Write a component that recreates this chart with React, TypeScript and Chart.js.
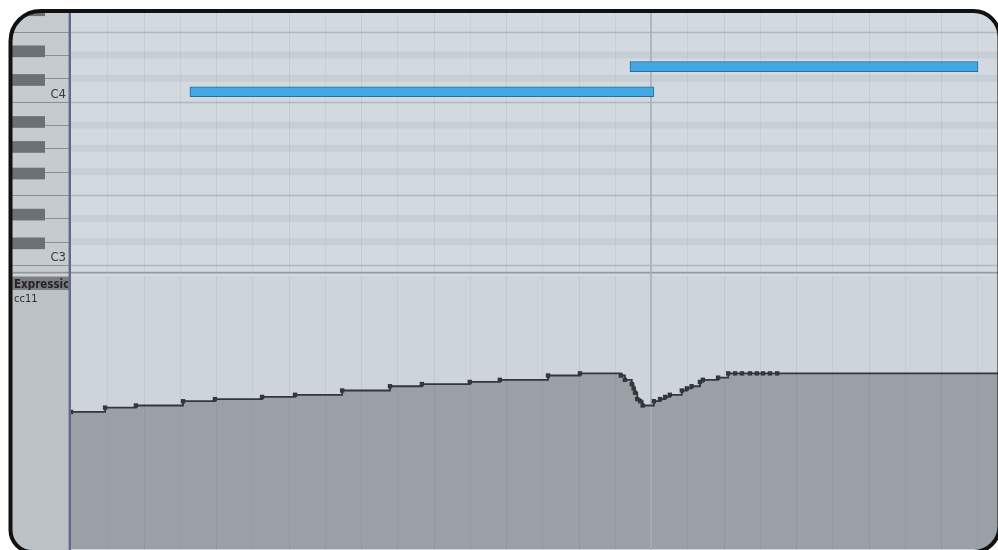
import React, { useEffect, useRef } from "react";
import { Chart, registerables } from "chart.js";

Chart.register(...registerables);

// ---------------- data ----------------
// Notes (MIDI pitch, start / end in 16th-note steps)
const NOTE_PITCHES = [60, 62]; // C4, D4
const NOTE_STARTS = [3.28, 15.42];
const NOTE_ENDS = [16.08, 25.02];

// Expression (CC11) events: time in 16th-note steps, value 0..127
const CC_TIMES = [
  0, 0.94, 1.79, 3.09, 3.97, 5.27, 6.18, 7.48, 8.8, 9.68, 11.0, 11.83, 13.16, 14.04,
  15.17, 15.28, 15.47, 15.52, 15.56, 15.62, 15.7, 15.77,
  16.08, 16.25, 16.39, 16.52, 16.85, 16.99, 17.12, 17.35, 17.43, 17.85, 18.13,
  18.32, 18.51, 18.73, 18.92, 19.09, 19.28, 19.48,
];
const CC_VALUES = [
  64, 66, 67, 69, 70, 71, 72, 74, 76, 77, 78, 79, 81, 82,
  81, 79, 77, 75, 73, 70, 69, 67,
  69, 70, 71, 72, 74, 75, 76, 78, 79, 80, 82,
  82, 82, 82, 82, 82, 82, 82,
];

// Keyboard labels
const KEY_LABEL_TEXT = ["C3", "C4"];
const KEY_LABEL_PITCHES = [48, 60];
const LANE_TITLE = "Expression";
const LANE_SUBTITLE = "cc11";
const STEPS_PER_BAR = 16;

// ---------------- geometry / style ----------------
const W = 998;
const H = 550;
const AREA_LEFT = 71;
const AREA_TOP = 12;
const AREA_RIGHT = 998;
const AREA_BOTTOM = 549;
const STEP_PX = 36.25;
const X_MAX = (AREA_RIGHT - AREA_LEFT) / STEP_PX;
const C3_PX = 265;
const WHITE_PX = 23.33;
const NOTE_MIN = -(AREA_BOTTOM - C3_PX) / WHITE_PX;
const NOTE_MAX = (C3_PX - AREA_TOP) / WHITE_PX;
const CC_TOP_PX = 277;
const CC_MAX = (127 * (AREA_BOTTOM - AREA_TOP)) / (AREA_BOTTOM - CC_TOP_PX);
const PANE_END = 271.7;
const LANE_START = 275.7;
const KB_LEFT = 12;
const KB_RIGHT = 69;
const BLACK_RIGHT = 45;
const H_ROW = 0.15;

const GRID_BG = "#d2d9df";
const STRIPE = "#c7cfd6";
const HLINE = "#b0b8bf";
const LANE_BG = "#cdd4da";
const CC_FILL = "#9aa0a6";
const CC_LINE = "#33363a";
const KB_WHITE = "#c6cbcf";
const KB_BLACK = "#6c7074";
const KB_LINE = "#8b9095";
const LANE_PANEL = "#bcc1c5";
const HEADER_BG = "#7b7f83";
const SEP_LINE = "#64688c";
const NOTE_FILL = "#44a7e5";
const NOTE_EDGE = "#2e6d9a";
const LABEL_FONT = '"DejaVu Sans Condensed", "DejaVu Sans", sans-serif';

// keyboard layout, in white-key units (C3 bottom = 0)
const BLACK_KEY_OFFSET = [0.68, 1.91, 3.67, 4.81, 5.88];

function rowRange(p: number): [number, number] {
  const o = Math.floor(p / 12) - 4;
  const n = ((p % 12) + 12) % 12;
  const b = o * 7;
  switch (n) {
    case 0: return [b, b + 1 - H_ROW];
    case 1: return [b + 1 - H_ROW, b + 1 + H_ROW];
    case 2: return [b + 1 + H_ROW, b + 2 - H_ROW];
    case 3: return [b + 2 - H_ROW, b + 2 + H_ROW];
    case 4: return [b + 2 + H_ROW, b + 3];
    case 5: return [b + 3, b + 4 - H_ROW];
    case 6: return [b + 4 - H_ROW, b + 4 + H_ROW];
    case 7: return [b + 4 + H_ROW, b + 5 - H_ROW];
    case 8: return [b + 5 - H_ROW, b + 5 + H_ROW];
    case 9: return [b + 5 + H_ROW, b + 6 - H_ROW];
    case 10: return [b + 6 - H_ROW, b + 6 + H_ROW];
    default: return [b + 6 + H_ROW, b + 7];
  }
}
const rowCenter = (p: number) => {
  const [lo, hi] = rowRange(p);
  return (lo + hi) / 2;
};

function roundRectPath(ctx: CanvasRenderingContext2D, l: number, t: number, r: number, b: number, rTL: number, rTR: number, rBR: number, rBL: number) {
  ctx.moveTo(l + rTL, t);
  ctx.lineTo(r - rTR, t);
  ctx.arcTo(r, t, r, t + rTR, rTR);
  ctx.lineTo(r, b - rBR);
  ctx.arcTo(r, b, r - rBR, b, rBR);
  ctx.lineTo(l + rBL, b);
  ctx.arcTo(l, b, l, b - rBL, rBL);
  ctx.lineTo(l, t + rTL);
  ctx.arcTo(l, t, l + rTL, t, rTL);
  ctx.closePath();
}

const pianoRollPlugin = {
  id: "pianoRoll",
  beforeDraw(chart: any) {
    const { ctx, scales } = chart;
    const yN = scales.yNote;
    const uPx = (u: number) => yN.getPixelForValue(u);
    ctx.save();
    // keyboard column + lane panel
    ctx.fillStyle = KB_WHITE;
    ctx.fillRect(0, 0, KB_RIGHT, PANE_END);
    ctx.fillStyle = LANE_PANEL;
    ctx.fillRect(0, PANE_END, KB_RIGHT, H - PANE_END);
    // top grid pane
    ctx.fillStyle = GRID_BG;
    ctx.fillRect(KB_RIGHT, 0, W - KB_RIGHT, PANE_END);
    // lane background
    ctx.fillStyle = LANE_BG;
    ctx.fillRect(KB_RIGHT, LANE_START, W - KB_RIGHT, H - LANE_START);

    // stripes & lines in the grid pane
    ctx.save();
    ctx.beginPath();
    ctx.rect(KB_RIGHT, 0, W - KB_RIGHT, PANE_END);
    ctx.clip();
    for (let o = -1; o <= 1; o++) {
      for (const n of [1, 3, 6, 8, 10]) {
        const [lo, hi] = rowRange(48 + o * 12 + n);
        const y1 = uPx(hi), y2 = uPx(lo);
        ctx.fillStyle = STRIPE;
        ctx.fillRect(KB_RIGHT, y1, W - KB_RIGHT, y2 - y1);
      }
      for (const u of [o * 7, o * 7 + 3]) {
        const y = Math.round(uPx(u)) + 0.5;
        ctx.strokeStyle = HLINE;
        ctx.lineWidth = 1.3;
        ctx.beginPath();
        ctx.moveTo(KB_RIGHT, y);
        ctx.lineTo(W, y);
        ctx.stroke();
      }
    }
    ctx.restore();

    // keyboard keys
    ctx.save();
    ctx.beginPath();
    ctx.rect(0, 0, KB_RIGHT, PANE_END);
    ctx.clip();
    for (let o = -1; o <= 1; o++) {
      for (let w = 0; w < 7; w++) {
        const u = o * 7 + w;
        const y = Math.round(uPx(u)) + 0.5;
        const full = w === 0 || w === 3;
        ctx.strokeStyle = KB_LINE;
        ctx.lineWidth = 1.2;
        ctx.beginPath();
        ctx.moveTo(full ? 0 : BLACK_RIGHT, y);
        ctx.lineTo(KB_RIGHT, y);
        ctx.stroke();
      }
      for (const off of BLACK_KEY_OFFSET) {
        const lo = o * 7 + off;
        const y1 = uPx(lo + 0.5), y2 = uPx(lo);
        ctx.fillStyle = KB_BLACK;
        ctx.fillRect(0, y1, BLACK_RIGHT, y2 - y1);
      }
    }
    ctx.restore();

    // key labels
    ctx.fillStyle = "#3a3a3a";
    ctx.font = `13px ${LABEL_FONT}`;
    ctx.textAlign = "right";
    ctx.textBaseline = "alphabetic";
    KEY_LABEL_PITCHES.forEach((p, i) => {
      const [lo] = rowRange(p);
      ctx.fillText(KEY_LABEL_TEXT[i], 66, uPx(lo) - 4);
    });

    // separator band between panes
    ctx.fillStyle = "#8f969c";
    ctx.fillRect(0, PANE_END, W, 2);
    ctx.fillStyle = "#cfd4d8";
    ctx.fillRect(0, PANE_END + 2, W, LANE_START - PANE_END - 2);

    // lane header
    ctx.fillStyle = HEADER_BG;
    ctx.fillRect(KB_LEFT, 276.7, KB_RIGHT - KB_LEFT, 13.3);
    ctx.save();
    ctx.beginPath();
    ctx.rect(KB_LEFT, 276.7, KB_RIGHT - KB_LEFT - 1, 13.3);
    ctx.clip();
    ctx.fillStyle = "#242424";
    ctx.font = `bold 11.5px ${LABEL_FONT}`;
    ctx.textAlign = "left";
    ctx.fillText(LANE_TITLE, 14, 287.8);
    ctx.restore();
    ctx.fillStyle = "#2e2e2e";
    ctx.font = `11px ${LABEL_FONT}`;
    ctx.textAlign = "left";
    ctx.fillText(LANE_SUBTITLE, 14, 302);
    ctx.restore();
  },
  beforeDatasetsDraw(chart: any) {
    const { ctx, scales } = chart;
    const xs = scales.x;
    ctx.save();
    for (let k = 1; k <= Math.floor(X_MAX); k++) {
      if (k % STEPS_PER_BAR === 0) continue;
      const x = Math.round(xs.getPixelForValue(k)) + 0.5;
      ctx.strokeStyle = k % 2 === 0 ? "rgba(80,92,104,0.10)" : "rgba(80,92,104,0.065)";
      ctx.lineWidth = 1;
      ctx.beginPath();
      ctx.moveTo(x, 0);
      ctx.lineTo(x, PANE_END);
      ctx.moveTo(x, LANE_START);
      ctx.lineTo(x, H);
      ctx.stroke();
    }
    for (let k = STEPS_PER_BAR; k <= X_MAX; k += STEPS_PER_BAR) {
      const x = xs.getPixelForValue(k);
      ctx.strokeStyle = "#a8afb6";
      ctx.lineWidth = 1.6;
      ctx.beginPath();
      ctx.moveTo(x, 0);
      ctx.lineTo(x, H);
      ctx.stroke();
    }
    // keyboard / grid separator
    ctx.strokeStyle = SEP_LINE;
    ctx.lineWidth = 2.4;
    ctx.beginPath();
    ctx.moveTo(69.8, 0);
    ctx.lineTo(69.8, H);
    ctx.stroke();
    ctx.restore();
  },
  afterDraw(chart: any) {
    const { ctx } = chart;
    ctx.save();
    ctx.beginPath();
    ctx.rect(-5, -5, W + 10, H + 10);
    roundRectPath(ctx, 10.5, 11, 999.5, 552, 30, 26, 26, 22);
    ctx.fillStyle = "#ffffff";
    ctx.fill("evenodd");
    ctx.beginPath();
    roundRectPath(ctx, 10.5, 11, 999.5, 552, 30, 26, 26, 22);
    ctx.strokeStyle = "#111111";
    ctx.lineWidth = 4;
    ctx.stroke();
    ctx.restore();
  },
};

export default function App() {
  const canvasRef = useRef<HTMLCanvasElement | null>(null);

  useEffect(() => {
    const canvas = canvasRef.current;
    if (!canvas) return;
    const noteData = NOTE_PITCHES.map((p, i) => ({ x: [NOTE_STARTS[i], NOTE_ENDS[i]], y: rowCenter(p) }));
    const lastVal = CC_VALUES[CC_VALUES.length - 1];
    const ccData = CC_TIMES.map((t, i) => ({ x: t, y: CC_VALUES[i] }));
    ccData.push({ x: X_MAX + 1, y: lastVal });
    const nPts = CC_TIMES.length;

    const chart = new Chart(canvas, {
      type: "line",
      data: {
        datasets: [
          {
            type: "bar",
            label: "Notes",
            indexAxis: "y",
            xAxisID: "x",
            yAxisID: "yNote",
            data: noteData as any,
            backgroundColor: NOTE_FILL,
            borderColor: NOTE_EDGE,
            borderWidth: 1,
            borderSkipped: false,
            barThickness: 10,
          } as any,
          {
            type: "line",
            label: LANE_TITLE,
            xAxisID: "x",
            yAxisID: "yCC",
            data: ccData,
            stepped: "before",
            borderColor: CC_LINE,
            borderWidth: (c: any) => 1.8,
            fill: "start",
            backgroundColor: CC_FILL,
            pointStyle: "rect",
            pointRadius: (c: any) => (c.dataIndex < nPts ? 3.1 : 0),
            pointBackgroundColor: CC_LINE,
            pointBorderWidth: 0,
            tension: 0,
          } as any,
        ],
      },
      options: {
        animation: false,
        responsive: false,
        devicePixelRatio: 1,
        events: [],
        layout: {
          autoPadding: false,
          padding: { left: AREA_LEFT, top: AREA_TOP, right: W - AREA_RIGHT, bottom: H - AREA_BOTTOM },
        },
        scales: {
          x: { type: "linear", axis: "x", min: 0, max: X_MAX, display: false, offset: false } as any,
          yNote: { type: "linear", axis: "y", min: NOTE_MIN, max: NOTE_MAX, display: false, offset: false } as any,
          yCC: { type: "linear", axis: "y", min: 0, max: CC_MAX, display: false, offset: false } as any,
        },
        plugins: {
          legend: { display: false },
          tooltip: { enabled: false },
          filler: { drawTime: "beforeDatasetsDraw" } as any,
        },
      } as any,
      plugins: [pianoRollPlugin as any],
    });
    return () => chart.destroy();
  }, []);

  return (
    <div style={{ position: "absolute", left: 0, top: 0, width: W, height: H, background: "#fff" }}>
      <canvas ref={canvasRef} width={W} height={H} style={{ width: W, height: H, display: "block" }} />
    </div>
  );
}
